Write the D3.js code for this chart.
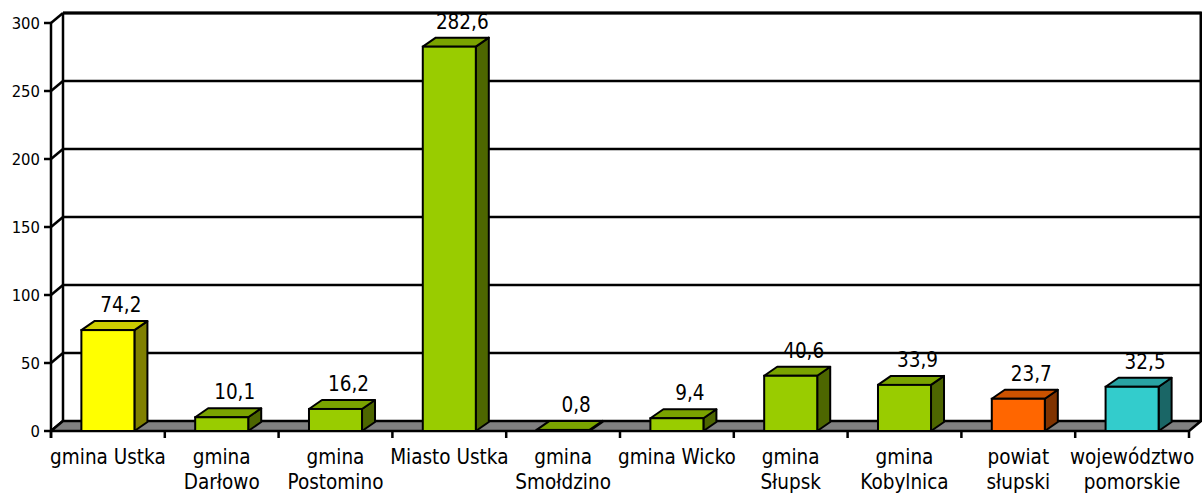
<!DOCTYPE html>
<html>
<head>
<meta charset="utf-8">
<script src="https://cdn.jsdelivr.net/npm/d3@7"></script>
<style>
  html, body { margin: 0; padding: 0; background: #fff; }
  svg { display: block; }
  text { font-family: 'DejaVu Sans Condensed', 'DejaVu Sans', sans-serif; font-stretch: condensed; }
</style>
</head>
<body>
<svg id="chart" width="1202" height="495"></svg>
<script>
const categories = [
  "gmina Ustka", "gmina\nDarłowo", "gmina\nPostomino", "Miasto Ustka",
  "gmina\nSmołdzino", "gmina Wicko", "gmina\nSłupsk", "gmina\nKobylnica",
  "powiat\nsłupski", "województwo\npomorskie"
];
const values = [74.2, 10.1, 16.2, 282.6, 0.8, 9.4, 40.6, 33.9, 23.7, 32.5];
const valueLabels = ["74,2", "10,1", "16,2", "282,6", "0,8", "9,4", "40,6", "33,9", "23,7", "32,5"];
const barColors = ["#FFFF00", "#99CC00", "#99CC00", "#99CC00", "#99CC00", "#99CC00", "#99CC00", "#99CC00", "#FF6600", "#33CCCC"];
const yTicks = [0, 50, 100, 150, 200, 250, 300];

const svg = d3.select("#chart");
const X0 = 51, X1 = 1189;
const WDX = 12, WDY = -10;   // wall depth
const BDX = 13, BDY = -9;    // bar depth

const x = d3.scaleBand().domain(categories).range([X0, X1]).paddingInner(0.534).paddingOuter(0.267);
const y = d3.scaleLinear().domain([0, 300]).range([431, 23]);
const step = x.step();

const shade = (c, k) => { const r = d3.rgb(c); return d3.rgb(r.r * k, r.g * k, r.b * k).formatHex(); };

const g = svg.append("g");
// back wall gridlines
g.selectAll("line.grid").data(yTicks.filter(t => t > 0)).join("line")
  .attr("x1", X0 + WDX).attr("x2", X1 + WDX)
  .attr("y1", d => y(d) + WDY).attr("y2", d => y(d) + WDY)
  .attr("stroke", "#000").attr("stroke-width", 2.5);
g.append("line").attr("x1", X0 + WDX).attr("x2", X1 + WDX + 1)
  .attr("y1", y(300) + WDY).attr("y2", y(300) + WDY)
  .attr("stroke", "#000").attr("stroke-width", 3);
g.append("line").attr("x1", X0 + WDX).attr("x2", X0 + WDX)
  .attr("y1", y(300) + WDY).attr("y2", y(0) + WDY).attr("stroke", "#000").attr("stroke-width", 2.5);
g.append("line").attr("x1", X1 + WDX).attr("x2", X1 + WDX)
  .attr("y1", y(300) + WDY).attr("y2", y(0) + WDY).attr("stroke", "#000").attr("stroke-width", 3);
// side wall diagonals
g.selectAll("line.diag").data(yTicks).join("line")
  .attr("x1", X0).attr("x2", X0 + WDX)
  .attr("y1", d => y(d)).attr("y2", d => y(d) + WDY)
  .attr("stroke", "#000").attr("stroke-width", 2.5);

// floor
g.append("polygon")
  .attr("points", [[X0, y(0)], [X1, y(0)], [X1 + WDX, y(0) + WDY], [X0 + WDX, y(0) + WDY]].map(p => p.join(",")).join(" "))
  .attr("fill", "#808080").attr("stroke", "#000").attr("stroke-width", 2.5).attr("stroke-linejoin", "round");

// y axis
g.append("line").attr("x1", X0).attr("x2", X0).attr("y1", y(300)).attr("y2", y(0) + 7)
  .attr("stroke", "#000").attr("stroke-width", 2.5);
g.selectAll("line.ytick").data(yTicks).join("line")
  .attr("x1", X0 - 7).attr("x2", X0).attr("y1", d => y(d)).attr("y2", d => y(d))
  .attr("stroke", "#000").attr("stroke-width", 2.5);
g.selectAll("text.ylab").data(yTicks).join("text")
  .attr("x", X0 - 11).attr("y", d => y(d) + 6)
  .attr("text-anchor", "end")
  .attr("font-size", 16.5)
  .attr("fill", "#000").text(d => d);

// x ticks
const xt = d3.range(categories.length + 1).map(i => X0 + i * step);
g.selectAll("line.xtick").data(xt).join("line")
  .attr("x1", d => d).attr("x2", d => d).attr("y1", y(0)).attr("y2", y(0) + 7)
  .attr("stroke", "#000").attr("stroke-width", 2.5);

// bars
const bars = g.selectAll("g.bar").data(values.map((v, i) => ({ v, i, c: categories[i], col: barColors[i] }))).join("g");
bars.each(function (d) {
  const b = d3.select(this);
  const xl = x(d.c), xr = xl + x.bandwidth();
  const yt = y(d.v), yb = y(0);
  const pts = a => a.map(p => p.join(",")).join(" ");
  b.append("polygon").attr("points", pts([[xr, yb], [xr, yt], [xr + BDX, yt + BDY], [xr + BDX, yb + BDY]]))
    .attr("fill", shade(d.col, 0.5)).attr("stroke", "#000").attr("stroke-width", 2).attr("stroke-linejoin", "round");
  b.append("polygon").attr("points", pts([[xl, yt], [xr, yt], [xr + BDX, yt + BDY], [xl + BDX, yt + BDY]]))
    .attr("fill", shade(d.col, 0.8)).attr("stroke", "#000").attr("stroke-width", 2).attr("stroke-linejoin", "round");
  b.append("rect").attr("x", xl).attr("y", yt).attr("width", xr - xl).attr("height", Math.max(0, yb - yt))
    .attr("fill", d.col).attr("stroke", "#000").attr("stroke-width", 2);
});

// value labels
g.selectAll("text.val").data(values).join("text")
  .attr("x", (d, i) => x(categories[i]) + x.bandwidth() / 2 + BDX)
  .attr("y", d => y(d) + BDY - 9)
  .attr("text-anchor", "middle")
  .attr("font-size", 20.5)
  .attr("fill", "#000").text((d, i) => valueLabels[i]);

// category labels
const cl = g.selectAll("text.cat").data(categories).join("text")
  .attr("text-anchor", "middle")
  .attr("font-size", 20.5)
  .attr("fill", "#000");
cl.each(function (d) {
  const t = d3.select(this);
  const cx = x(d) + x.bandwidth() / 2;
  d.split("\n").forEach((line, k) => {
    t.append("tspan").attr("x", cx).attr("y", 464 + k * 25).text(line);
  });
});
</script>
</body>
</html>
